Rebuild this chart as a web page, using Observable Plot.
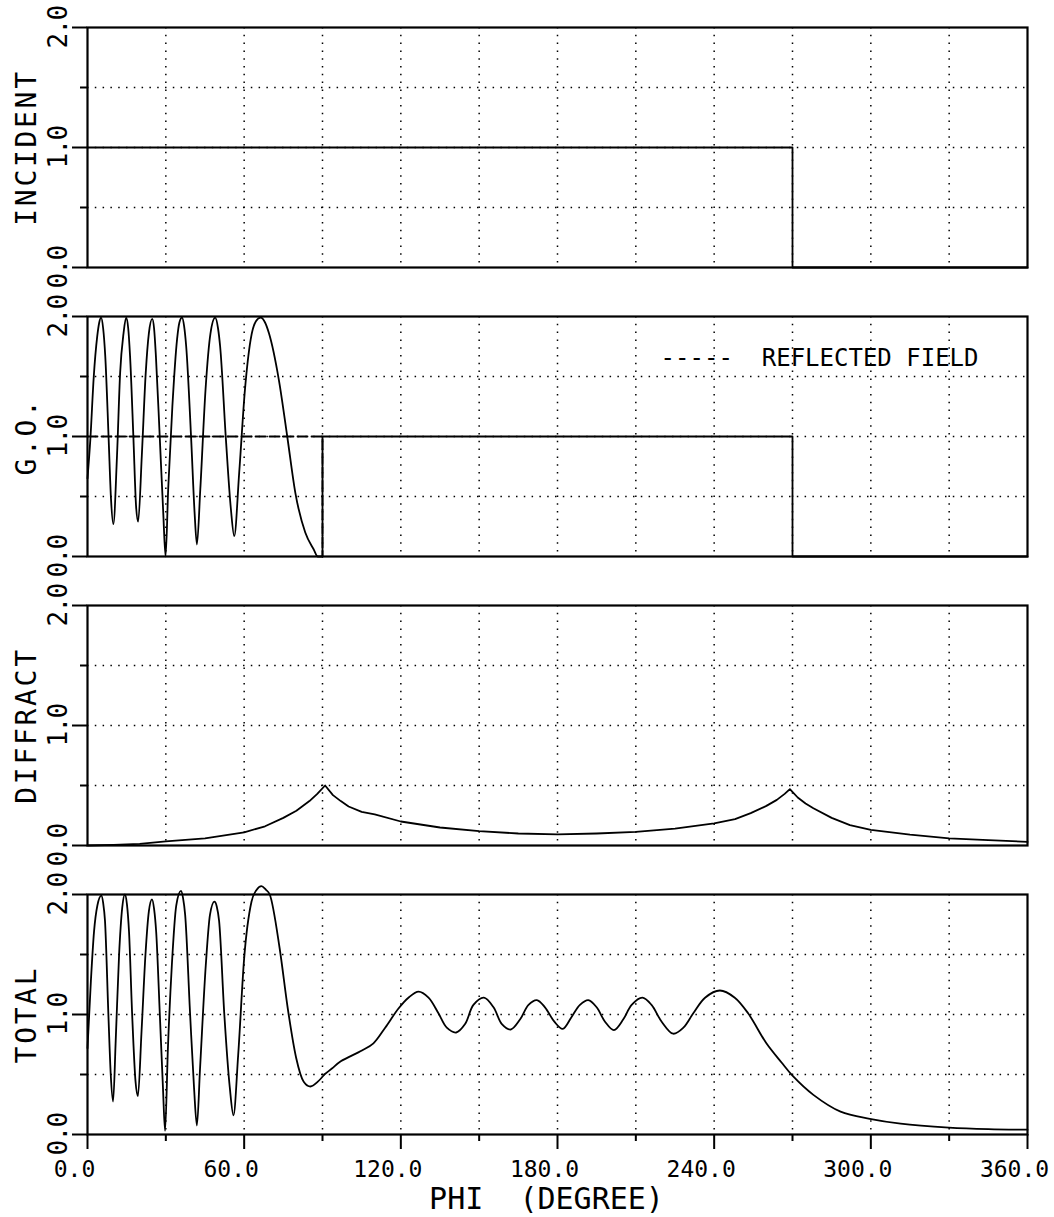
<!DOCTYPE html>
<html><head><meta charset="utf-8">
<script src="https://cdn.jsdelivr.net/npm/d3@7"></script>
<script src="https://cdn.jsdelivr.net/npm/@observablehq/plot@0.6"></script>
<style>
html,body{margin:0;padding:0;background:#fff;}
#chart svg{display:block;}
g[font-size="28"] text{letter-spacing:2.7px;}
g[font-size="26"] text{letter-spacing:-1.6px;}
</style></head><body><div id="chart"></div>
<script>
// ---- tick / grid definitions ----
const gridPhi = [30,60,90,120,150,180,210,240,270,300,330];
const gridVal = [0.5,1.0,1.5];
const yMajor = [0,1,2];
const yMinor = [0.5,1.5];
const xMajor = [0,60,120,180,240,300,360];
const xMinor = [30,90,150,210,270,330];
const titles = ["INCIDENT","G.O.","DIFFRACT","TOTAL"];
const xLabel = "PHI  (DEGREE)";
const legendText = "-----  REFLECTED FIELD";

// ---- INCIDENT ----
const incPhi = [0,270,270,360];
const incVal = [1,1,0,0];

// ---- G.O. total (solid): oscillating lit region ----
const goPhi = [0,1.1,2.4,3.7,4.5,5.2,6.0,6.8,8.1,9.0,9.9,11.3,12.5,13.8,14.8,15.6,16.3,17.6,18.6,19.4,20.8,22.3,23.5,24.8,25.5,26.2,27.7,29.0,29.9,30.9,32.5,34.3,35.2,36.2,37.0,37.8,39.7,41.0,41.9,43.2,45.2,47.1,48.9,50.0,50.8,53.0,54.9,56.2,58.1,60.3,62.5,64.5,66.3,68.0,69.5,73.3,76.5,79.6,83.4,86.6,88.2,90];
const goVal = [0.65,0.98,1.50,1.83,1.95,1.99,1.90,1.67,0.98,0.48,0.27,0.84,1.53,1.86,1.99,1.90,1.67,0.98,0.42,0.29,0.84,1.53,1.86,1.98,1.90,1.67,0.98,0.37,0.0,0.56,1.25,1.81,1.95,1.99,1.92,1.75,0.98,0.37,0.10,0.56,1.39,1.86,1.99,1.90,1.75,0.98,0.40,0.17,0.70,1.39,1.81,1.96,1.99,1.95,1.86,1.47,1.00,0.53,0.20,0.06,0.0,0.0];
// ---- G.O. step part (incident only, then shadow) ----
const goStepPhi = [90,90,270,270,360];
const goStepVal = [0,1,1,0,0];

// ---- reflected field (dashed) ----
const reflPhi = [0,90,90];
const reflVal = [1,1,0];

// ---- DIFFRACT ----
const diffPhi = [0,10,20,30,45,60,68,75,80,85,88,91,94,97,100,105,110,120,135,150,165,180,195,210,225,240,248,254,260,264,267,269,272,275,278,285,292,300,315,330,345,360];
const diffVal = [0.0,0.005,0.014,0.034,0.06,0.11,0.16,0.23,0.29,0.37,0.43,0.50,0.42,0.37,0.325,0.28,0.26,0.20,0.15,0.12,0.10,0.093,0.10,0.113,0.14,0.184,0.22,0.27,0.33,0.38,0.43,0.47,0.40,0.35,0.31,0.23,0.17,0.13,0.09,0.06,0.045,0.03];

// ---- TOTAL ----
const totPhi = [0,1.3,2.5,3.8,5.3,6.0,6.7,8.0,8.9,9.8,10.8,12.1,13.3,14.3,15.1,15.9,17.1,18.4,19.3,20.7,22.2,23.5,24.7,25.5,26.3,27.7,28.9,29.7,30.8,32.3,34.0,35.8,36.6,37.4,39.3,40.8,41.9,43.1,45.3,46.9,48.6,49.5,50.4,52.4,54.5,55.9,57.7,60.0,62.8,64.8,66.6,68.3,69.8,73.6,76.7,79.9,82.8,85.4,88.2,90.7,93.6,97,105.1,109.5,114,119.1,122.9,126.8,130.6,134.4,137.6,141.2,144.6,147.8,151.8,155.5,158.7,162.1,165.7,168.9,172.1,175.2,178.8,182.0,185.4,188.6,191.8,195.0,198.2,201.6,205.2,208.4,212.5,216.0,219.9,224.3,228.2,232.0,236.5,242.2,247.9,253.0,260,265.8,270,278,288.4,299.6,311.4,329.9,345,360];
const totVal = [0.72,1.28,1.69,1.91,1.99,1.93,1.78,1.0,0.50,0.275,0.78,1.5,1.89,2.0,1.92,1.69,1.0,0.44,0.32,0.86,1.5,1.86,1.96,1.88,1.69,1.0,0.39,0.03,0.72,1.41,1.91,2.03,1.97,1.83,1.0,0.39,0.075,0.55,1.41,1.83,1.94,1.90,1.78,1.0,0.39,0.16,0.66,1.47,1.94,2.04,2.07,2.04,2.0,1.55,1.05,0.64,0.44,0.40,0.44,0.50,0.55,0.61,0.70,0.76,0.89,1.05,1.14,1.19,1.14,1.01,0.89,0.85,0.92,1.08,1.14,1.06,0.92,0.875,0.96,1.08,1.12,1.06,0.94,0.88,0.98,1.08,1.12,1.06,0.94,0.87,0.96,1.08,1.14,1.08,0.94,0.84,0.89,1.01,1.14,1.2,1.14,1.01,0.76,0.60,0.49,0.33,0.19,0.13,0.09,0.058,0.045,0.04];

const zip = (p, v) => p.map((phi, i) => ({phi, v: v[i]}));
const inc = zip(incPhi, incVal);
const go = zip(goPhi, goVal);
const goStep = zip(goStepPhi, goStepVal);
const refl = zip(reflPhi, reflVal);
const diff = zip(diffPhi, diffVal);
const tot = zip(totPhi, totVal);
const totA = tot.filter(d => d.phi <= 90.7);
const totB = tot.filter(d => d.phi >= 90.7);

const GRID = {stroke: "black", strokeOpacity: 1, strokeWidth: 1.5, strokeDasharray: "1.5,6.3"};

function panel(title, lineMarks, bottom) {
  const marks = [
    Plot.gridX({ticks: gridPhi, ...GRID}),
    Plot.gridY({ticks: gridVal, ...GRID}),
    Plot.axisY({ticks: yMajor, tickSize: 15, fill: "none", strokeWidth: 2, label: null}),
    Plot.axisY({ticks: yMinor, tickSize: 7, fill: "none", strokeWidth: 2, label: null}),
    Plot.text(yMajor, {y: d => d, text: d => d.toFixed(1), frameAnchor: "left", dx: -29, rotate: -90, fontSize: 26, textAnchor: "middle", lineAnchor: "middle"}),
    Plot.text([title], {frameAnchor: "left", dx: -60, rotate: -90, fontSize: 28, textAnchor: "middle", lineAnchor: "middle"}),
    ...lineMarks,
    Plot.frame({stroke: "black", strokeWidth: 2.2})
  ];
  if (bottom) {
    marks.push(
      Plot.axisX({ticks: xMajor, tickSize: 15, fill: "none", strokeWidth: 2, label: null}),
      Plot.axisX({ticks: xMinor, tickSize: 7, fill: "none", strokeWidth: 2, label: null}),
      Plot.axisX({ticks: xMajor, tickSize: 0, tickPadding: 26, tickFormat: d => d.toFixed(1), fontSize: 23, dx: -13, label: null}),
      Plot.text([xLabel], {frameAnchor: "bottom", lineAnchor: "top", dy: 53, dx: -11, fontSize: 30})
    );
  }
  return Plot.plot({
    width: 1054,
    height: bottom ? 350 : 289,
    marginLeft: 87,
    marginRight: 27,
    marginTop: 27,
    marginBottom: bottom ? 83 : 22,
    x: {domain: [0, 360], axis: bottom ? undefined : null},
    y: {domain: [0, 2]},
    style: {fontFamily: "'DejaVu Sans Mono', monospace", color: "black", background: "white", overflow: "visible"},
    marks
  });
}

const L = {x: "phi", y: "v", stroke: "black", strokeWidth: 1.8};
const chart = document.getElementById("chart");
chart.append(panel(titles[0], [Plot.line(inc, L)], false));
chart.append(panel(titles[1], [
  Plot.line(refl, {...L, strokeDasharray: "10,4"}),
  Plot.line(go, {...L, curve: "monotone-x"}),
  Plot.line(goStep, L),
  Plot.text([legendText], {frameAnchor: "top-right", textAnchor: "end", lineAnchor: "middle", dx: -49, dy: 42, fontSize: 24})
], false));
chart.append(panel(titles[2], [Plot.line(diff, L)], false));
chart.append(panel(titles[3], [
  Plot.line(totA, {...L, curve: "monotone-x"}),
  Plot.line(totB, {...L, curve: "catmull-rom"})
], true));
</script></body></html>
